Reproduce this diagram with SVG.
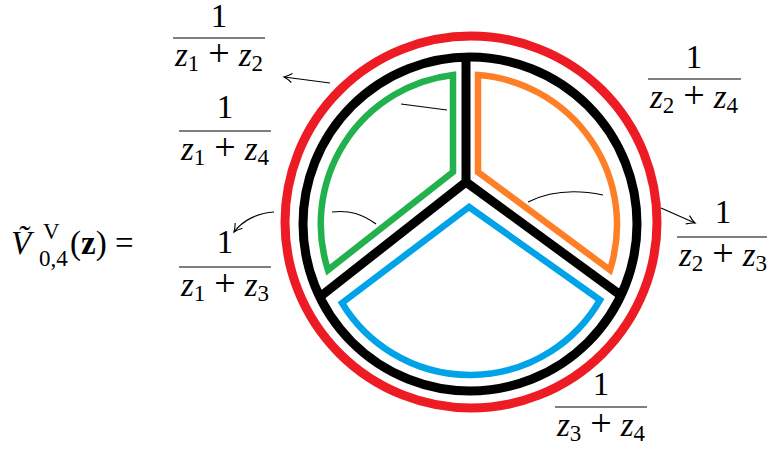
<svg xmlns="http://www.w3.org/2000/svg" width="767" height="451" viewBox="0 0 767 451">
<style>
text{font-family:'Liberation Serif','Times New Roman',serif;font-size:33px;fill:#000}
.i{font-style:italic}
.s{font-size:23px}
.p{font-size:38px}
.bar{stroke:#000;stroke-width:1.2}
.conn{fill:none;stroke:#000;stroke-width:1.2}
.ring{fill:none;stroke-width:9}
.sector{fill:none;stroke-width:6.5;stroke-linejoin:miter}
</style>
<defs>
<marker id="ah" markerWidth="14" markerHeight="12" viewBox="-10 -6 12 12" refX="0" refY="0" orient="auto" markerUnits="userSpaceOnUse">
<path d="M -8 -4.5 Q -3 -1 0 0 Q -3 1 -8 4.5" fill="none" stroke="#000" stroke-width="1.1"/>
</marker>
</defs>
<rect width="767" height="451" fill="#fff"/>

<g id="lhs">
<text class="i" x="11" y="254" font-size="35">Ṽ</text>
<text class="s" x="43" y="239">V</text>
<text class="s" x="39" y="266">0,4</text>
<text x="70" y="254">(<tspan font-weight="bold">z</tspan>) =</text>
</g>

<g id="diagram">
<circle id="outer-ring" class="ring" cx="471" cy="222" r="186" stroke="#ED1C24"/>
<g id="black-ring">
<circle class="ring" cx="470" cy="224" r="167" stroke="#000"/>
<path d="M 466 56 L 466 182 L 321 296 M 466 182 L 619 294" fill="none" stroke="#000" stroke-width="9" stroke-linejoin="miter"/>
</g>
<path id="green" class="sector" stroke="#22B14C" d="M 453 75 L 453 172 L 328 270 A 150 150 0 0 1 453 75 Z"/>
<path id="orange" class="sector" stroke="#FF7F27" d="M 478 75 A 150 150 0 0 1 610 270 L 478 172 Z"/>
<path id="blue" class="sector" stroke="#00A2E8" stroke-width="7" d="M 469 207 L 600 300 A 150 150 0 0 1 342 303 Z"/>
</g>

<g id="connectors">
<path class="conn" d="M 330 83 L 284 77" marker-end="url(#ah)"/>
<path class="conn" d="M 401 104 L 447 110"/>
<path class="conn" d="M 376 224 C 362 214 350 210 332 212"/>
<path class="conn" d="M 274 212 C 258 213 243 220 234 232" marker-end="url(#ah)"/>
<path class="conn" d="M 528 202 Q 560 186 603 195"/>
<path class="conn" d="M 661 208 L 695 223" marker-end="url(#ah)"/>
</g>

<g id="frac-z1z2">
<text x="219" y="27" text-anchor="middle">1</text>
<line class="bar" x1="173" y1="38" x2="265" y2="38"/>
<text x="219" y="66" text-anchor="middle"><tspan class="i">z</tspan><tspan class="s" dy="5">1</tspan><tspan class="p" dx="9" dy="-5">+</tspan><tspan class="i" dx="9">z</tspan><tspan class="s" dy="5">2</tspan></text>
</g>
<g id="frac-z1z4">
<text x="225" y="118" text-anchor="middle">1</text>
<line class="bar" x1="179" y1="131" x2="271" y2="131"/>
<text x="225" y="160" text-anchor="middle"><tspan class="i">z</tspan><tspan class="s" dy="5">1</tspan><tspan class="p" dx="9" dy="-5">+</tspan><tspan class="i" dx="9">z</tspan><tspan class="s" dy="5">4</tspan></text>
</g>
<g id="frac-z1z3">
<text x="225" y="253" text-anchor="middle">1</text>
<line class="bar" x1="179" y1="267" x2="271" y2="267"/>
<text x="225" y="296" text-anchor="middle"><tspan class="i">z</tspan><tspan class="s" dy="5">1</tspan><tspan class="p" dx="9" dy="-5">+</tspan><tspan class="i" dx="9">z</tspan><tspan class="s" dy="5">3</tspan></text>
</g>
<g id="frac-z2z4">
<text x="694" y="68" text-anchor="middle">1</text>
<line class="bar" x1="648" y1="79" x2="741" y2="79"/>
<text x="694" y="108" text-anchor="middle"><tspan class="i">z</tspan><tspan class="s" dy="5">2</tspan><tspan class="p" dx="9" dy="-5">+</tspan><tspan class="i" dx="9">z</tspan><tspan class="s" dy="5">4</tspan></text>
</g>
<g id="frac-z2z3">
<text x="723" y="223" text-anchor="middle">1</text>
<line class="bar" x1="677" y1="237" x2="769" y2="237"/>
<text x="723" y="266" text-anchor="middle"><tspan class="i">z</tspan><tspan class="s" dy="5">2</tspan><tspan class="p" dx="9" dy="-5">+</tspan><tspan class="i" dx="9">z</tspan><tspan class="s" dy="5">3</tspan></text>
</g>
<g id="frac-z3z4">
<text x="601" y="395" text-anchor="middle">1</text>
<line class="bar" x1="555" y1="407" x2="647" y2="407"/>
<text x="601" y="436" text-anchor="middle"><tspan class="i">z</tspan><tspan class="s" dy="5">3</tspan><tspan class="p" dx="9" dy="-5">+</tspan><tspan class="i" dx="9">z</tspan><tspan class="s" dy="5">4</tspan></text>
</g>
</svg>
